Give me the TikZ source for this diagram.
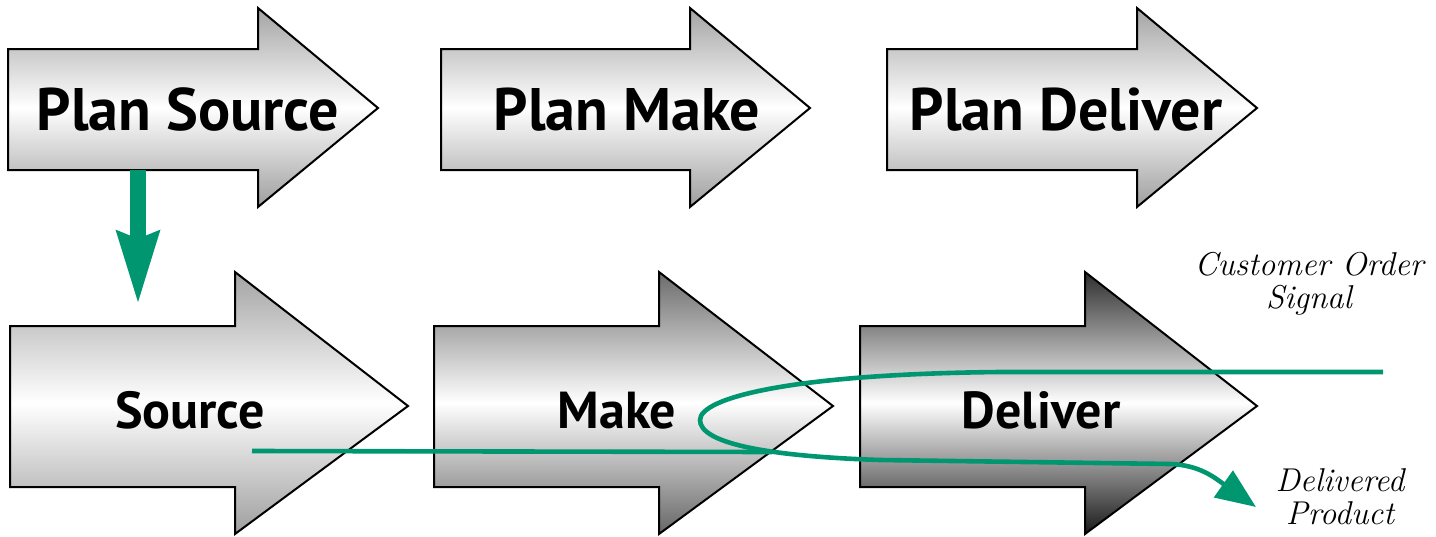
\documentclass[tikz,border=0pt]{standalone}
\usepackage{fontspec}
\setsansfont{PT Sans}
\usetikzlibrary{arrows.meta}
\definecolor{scgreen}{RGB}{0,150,112}
\begin{document}
\begin{tikzpicture}[x=0.5pt,y=-0.5pt,
  blk/.style={draw=black, line width=1pt, line join=miter},
  shadeA/.style={top color=black!36, bottom color=black!38, middle color=white},
  shadeB/.style={top color=black!58, bottom color=black!60, middle color=white},
  shadeC/.style={top color=black!82, bottom color=black!90, middle color=white},
  toplbl/.style={font=\sffamily\bfseries\fontsize{30}{36}\selectfont, anchor=base, inner sep=0pt},
  botlbl/.style={font=\sffamily\bfseries\fontsize{26}{30}\selectfont, anchor=base, inner sep=0pt},
  itlbl/.style={font=\rmfamily\itshape\fontsize{16.5}{16.5}\selectfont, align=center, inner sep=0pt},
  flow/.style={draw=scgreen, line width=2.3pt}
]
\useasboundingbox (0,0) rectangle (1436,536);
% top arrows
\path[blk,shadeA] (8,49) -- (258,49) -- (258,8) -- (378,108) -- (258,207) -- (258,170) -- (8,170) -- cycle;
\path[blk,shadeA] (441,49) -- (690,49) -- (690,8) -- (810,108) -- (690,207) -- (690,170) -- (441,170) -- cycle;
\path[blk,shadeA] (887,49) -- (1137,49) -- (1137,8) -- (1257,108) -- (1137,207) -- (1137,170) -- (887,170) -- cycle;
% bottom arrows
\path[blk,shadeA] (10,326) -- (235,326) -- (235,272) -- (408,406) -- (235,534) -- (235,487) -- (10,487) -- cycle;
\path[blk,shadeB] (434,326) -- (659,326) -- (659,272) -- (833,406) -- (659,534) -- (659,487) -- (434,487) -- cycle;
\path[blk,shadeC] (860,326) -- (1085,326) -- (1085,272) -- (1257,406) -- (1085,534) -- (1085,487) -- (860,487) -- cycle;
% labels
\node[toplbl] (ps) at (188,130) {Plan Source};
\node[toplbl] (pm) at (627,130) {Plan Make};
\node[toplbl] (pd) at (1066,130) {Plan Deliver};
\node[botlbl] (s) at (190,428) {Source};
\node[botlbl] (m) at (617,428) {Make};
\node[botlbl] (d) at (1041,428) {Deliver};
\node[itlbl] (cos) at (1309,284) {Customer Order\\Signal};
\node[itlbl] (dpl) at (1340,497) {Delivered\\Product};
% coordinates
\coordinate (psout) at (138,170);
\coordinate (sin) at (138,305);
\coordinate (srcstart) at (252,451);
\coordinate (join) at (772,452);
\coordinate (sig) at (1383,372);
\coordinate (dp) at (1256,507);
% connectors
\draw[draw=scgreen, line width=8pt, -{Stealth[length=36pt,width=20pt,inset=3pt]}] (psout) -- (sin);
\draw[flow] (srcstart) -- (join);
\draw[flow, -{Triangle[length=20pt,width=16pt]}] (sig) -- (1000,372)
  .. controls (790,374) and (700,398) .. (700,420)
  .. controls (700,442) and (760,456) .. (880,460)
  -- (1170,464) .. controls (1200,465) and (1215,478) .. (dp);
\end{tikzpicture}
\end{document}
